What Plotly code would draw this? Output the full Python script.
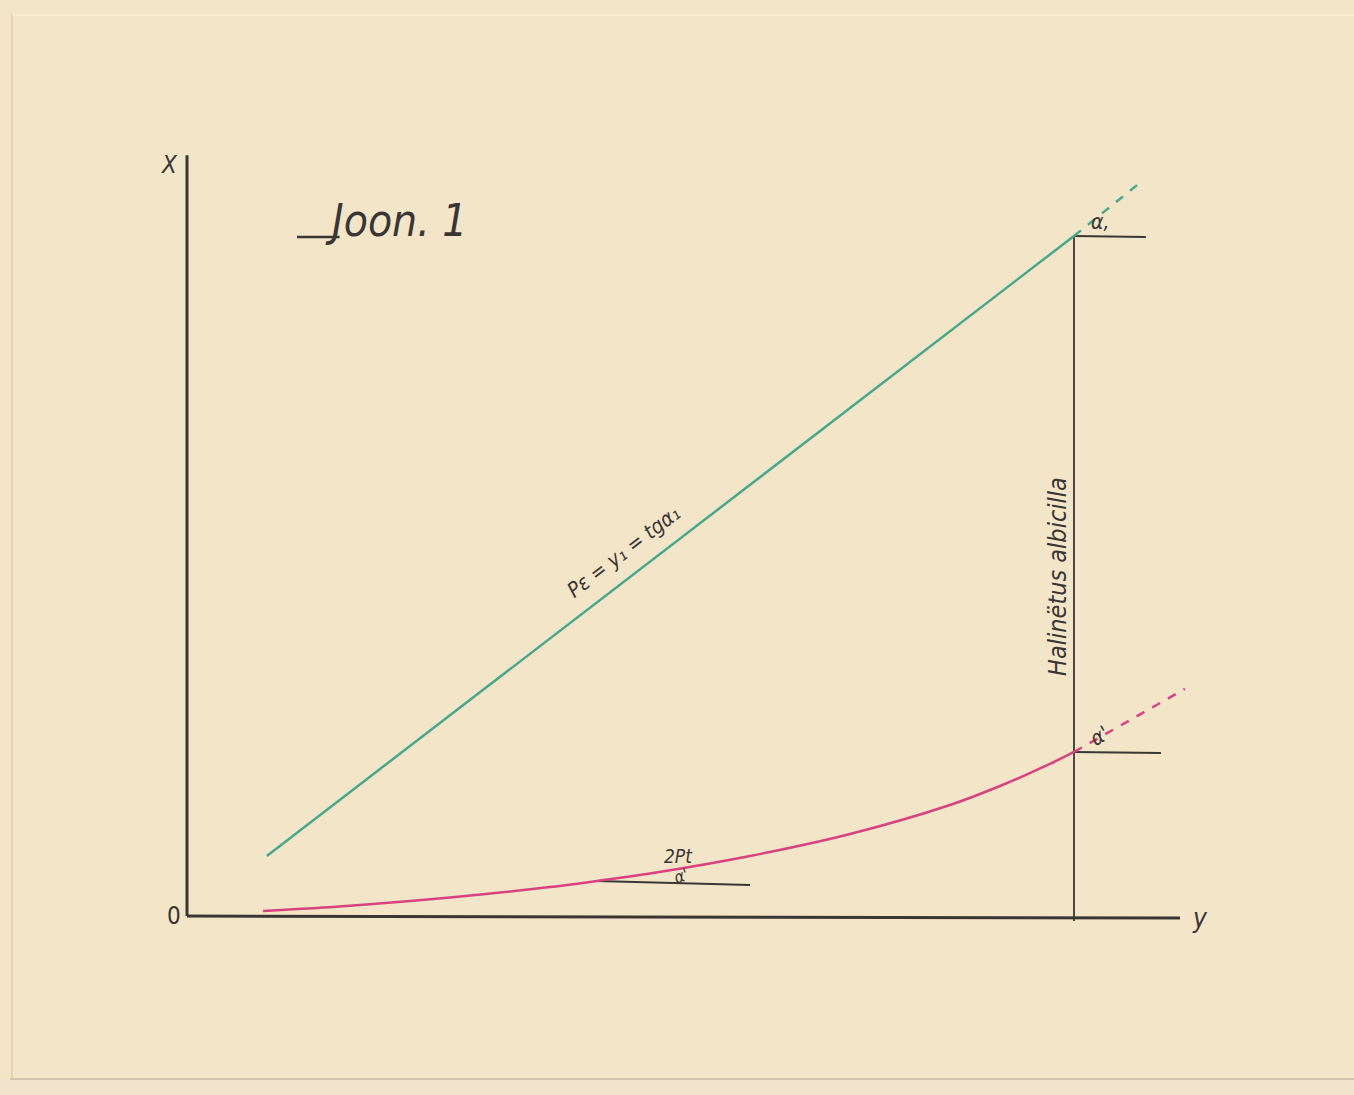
import plotly.graph_objects as go

# Coordinate system: horizontal "y" axis 0..100 (100 = Haliaeetus line), vertical "x" axis 0..100
green_h = [9.0, 100.0]
green_v = [8.7, 100.0]
green_ext_h = [100.0, 107.4]
green_ext_v = [100.0, 107.8]

pink_h = [8.57, 18.38, 29.65, 40.92, 46.22, 52.20, 63.47, 74.75, 86.02, 91.66, 97.29, 100.0]
pink_v = [0.59, 1.38, 2.58, 4.11, 5.01, 6.11, 8.69, 11.93, 16.20, 19.00, 22.24, 24.01]
pink_ext_h = [100.0, 112.5]
pink_ext_v = [24.01, 33.3]

ref_low_h = [46.22, 63.47]
ref_low_v = [5.01, 4.42]
ref_top_h = [100.0, 108.1]
ref_top_v = [100.0, 99.85]
ref_mid_h = [100.0, 109.8]
ref_mid_v = [24.0, 23.86]
species_h = [100.0, 100.0]
species_v = [100.0, -0.88]

axis_x_h = [0.0, 0.0]
axis_x_v = [111.9, -0.15]
axis_y_h = [0.0, 111.95]
axis_y_v = [-0.15, -0.44]

title_hook_h = [12.4, 17.2]
title_hook_v = [99.85, 99.85]

W, H = 1354, 1095
X0, Y0 = 187, 915
SX, SY = 8.87, 6.79

INK = "#3a3633"
GREEN = "#4aa88a"
PINK = "#d8437f"
PAPER = "#f3e5c8"

fig = go.Figure()

def line(h, v, color, width, dash="solid", shape="linear"):
    fig.add_trace(go.Scatter(x=h, y=v, mode="lines",
                             line=dict(color=color, width=width, dash=dash, shape=shape),
                             hoverinfo="skip", showlegend=False))

line(axis_x_h, axis_x_v, INK, 3)
line(axis_y_h, axis_y_v, INK, 3)
line(species_h, species_v, INK, 1.8)
line(ref_top_h, ref_top_v, INK, 2)
line(ref_mid_h, ref_mid_v, INK, 2)
line(ref_low_h, ref_low_v, INK, 2)
line(green_h, green_v, GREEN, 2.5)
line(green_ext_h, green_ext_v, GREEN, 2.5, "dash")
line(pink_h, pink_v, PINK, 2.5, shape="spline")
line(pink_ext_h, pink_ext_v, PINK, 2.5, "dash")
line(title_hook_h, title_hook_v, INK, 2.5)

HAND = "Liberation Sans Narrow, DejaVu Sans Condensed, sans-serif"

def txt(h, v, s, size, angle=0, font=HAND):
    fig.add_annotation(x=h, y=v, text=s, showarrow=False, textangle=angle,
                       font=dict(family=font, size=size, color=INK),
                       xanchor="center", yanchor="middle")

txt(-2.0, 110.5, "<i>X</i>", 24)
txt(-1.5, -0.1, "0", 24)
txt(114.2, -0.4, "<i>y</i>", 26)
txt(23.6, 102.3, "<i>Joon. 1</i>", 44)
txt(49.2, 53.5, "<i>Pε = y₁ = tgα₁</i>", 21, angle=-37.5)
txt(102.9, 102.1, "<i>α,</i>", 21)
txt(102.9, 26.3, "<i>α'</i>", 21, angle=-30)
txt(55.4, 8.7, "<i>2Pt</i>", 19)
txt(55.7, 5.7, "<i>α'</i>", 17, angle=-20)
txt(98.2, 49.8, "<i>Halinëtus albicilla</i>", 25, angle=-90)

fig.update_layout(
    width=W, height=H,
    margin=dict(l=0, r=0, t=0, b=0),
    paper_bgcolor=PAPER,
    plot_bgcolor="rgba(0,0,0,0)",
    xaxis=dict(range=[-X0 / SX, (W - X0) / SX], visible=False, fixedrange=True),
    yaxis=dict(range=[-(H - Y0) / SY, Y0 / SY], visible=False, fixedrange=True),
    shapes=[
        dict(type="rect", xref="paper", yref="paper", x0=0, x1=1, y0=0, y1=(H - 1079) / H,
             fillcolor="#efe3cc", line=dict(width=0), layer="below"),
        dict(type="line", xref="paper", yref="paper", x0=10 / W, x1=1, y0=(H - 1079) / H, y1=(H - 1079) / H,
             line=dict(color="#b3a893", width=1.2)),
        dict(type="line", xref="paper", yref="paper", x0=12 / W, x1=12 / W, y0=(H - 1079) / H, y1=(H - 14) / H,
             line=dict(color="#d8c6a3", width=1.2)),
        dict(type="line", xref="paper", yref="paper", x0=12 / W, x1=1, y0=(H - 15) / H, y1=(H - 15) / H,
             line=dict(color="#f8ecd2", width=1.5)),
    ],
)

fig.write_html(
    "out.html",
    config={"displayModeBar": False},
    post_script="document.body.style.margin='0';document.body.style.background='" + PAPER + "';",
)
